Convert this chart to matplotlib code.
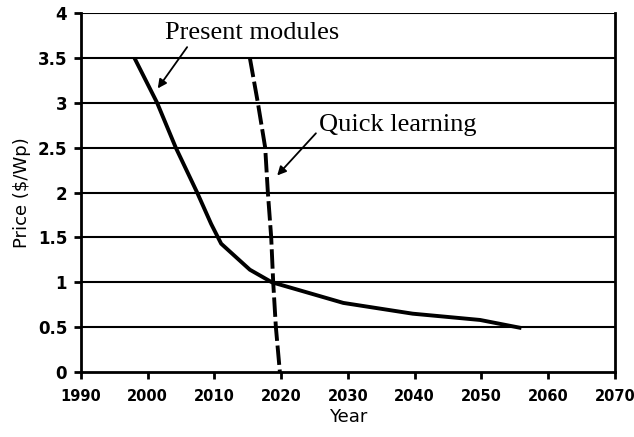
"""PV module price projections: present modules vs quick learning."""

import matplotlib
matplotlib.use("Agg")
import matplotlib.pyplot as plt

# Present modules curve (year, $/Wp)
present_years = [1998, 2001.4, 2004.2, 2007.4, 2009.5, 2011, 2015.3, 2018.6,
                 2022.8, 2029.3, 2039.7, 2049.8, 2056]
present_price = [3.5, 3.0, 2.5, 2.0, 1.65, 1.43, 1.14, 1.0,
                 0.91, 0.77, 0.65, 0.58, 0.49]

# Quick learning curve (year, $/Wp)
quick_years = [2015.3, 2016.5, 2017.6, 2018.0, 2018.5, 2018.8, 2019.2, 2019.8]
quick_price = [3.5, 3.0, 2.5, 2.0, 1.5, 1.0, 0.5, 0.0]

x_ticks = list(range(1990, 2071, 10))
y_ticks = [0, 0.5, 1, 1.5, 2, 2.5, 3, 3.5, 4]
y_tick_labels = ["0", "0.5", "1", "1.5", "2", "2.5", "3", "3.5", "4"]

fig = plt.figure(figsize=(6.34, 4.37), dpi=100)
ax = fig.add_axes([0.1278, 0.1487, 0.842, 0.8215])

for y in y_ticks[1:]:
    ax.axhline(y, color="black", linewidth=1.5, zorder=1)

ax.plot(present_years, present_price, color="black", linewidth=2.8,
        solid_capstyle="butt", zorder=3)
ax.plot(quick_years, quick_price, color="black", linewidth=2.8,
        linestyle=(0, (5, 1.2)), zorder=3)

ax.set_xlim(1990, 2070)
ax.set_ylim(0, 4)
ax.set_xticks(x_ticks)
ax.set_yticks(y_ticks)
ax.set_yticklabels(y_tick_labels)

for side in ("left", "bottom", "right"):
    ax.spines[side].set_linewidth(2)
ax.spines["top"].set_visible(False)

ax.tick_params(axis="both", direction="out", length=5, width=2)
ax.tick_params(axis="x", labelsize=10.5, pad=7)
ax.tick_params(axis="y", labelsize=12, pad=5)
for lbl in ax.get_xticklabels() + ax.get_yticklabels():
    lbl.set_fontfamily("DejaVu Sans")
    lbl.set_fontweight("bold")

ax.set_xlabel("Year", fontsize=13, family="DejaVu Sans", labelpad=3)
ax.set_ylabel("Price ($/Wp)", fontsize=13, family="DejaVu Sans", labelpad=5)

arrow = dict(arrowstyle="-|>", color="black", lw=1.3,
             mutation_scale=13, shrinkA=0, shrinkB=0)
ax.text(2015.6, 3.78, "Present modules", ha="center", va="center",
        fontsize=19, family="Liberation Serif")
ax.annotate("", xy=(2001.5, 3.16), xytext=(2005.9, 3.62), arrowprops=arrow)
ax.text(2037.5, 2.75, "Quick learning", ha="center", va="center",
        fontsize=19, family="Liberation Serif")
ax.annotate("", xy=(2019.4, 2.19), xytext=(2025.2, 2.66), arrowprops=arrow)

fig.savefig("out.png", dpi=100)
